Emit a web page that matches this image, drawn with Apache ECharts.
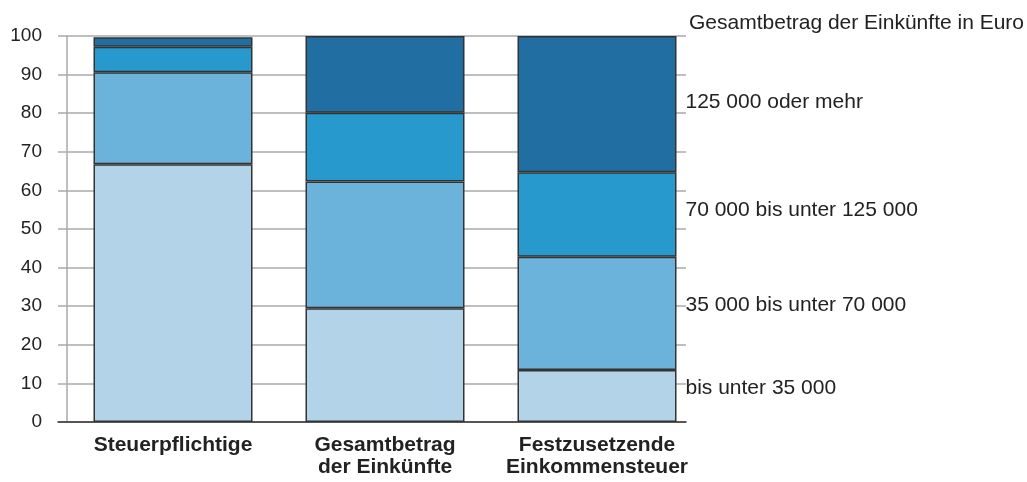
<!DOCTYPE html>
<html>
<head>
<meta charset="utf-8">
<script src="https://cdn.jsdelivr.net/npm/echarts@6/dist/echarts.min.js"></script>
<style>html,body{margin:0;padding:0;background:#fff;}#c{width:1027px;height:482px;}</style>
</head>
<body>
<div id="c"></div>
<script>
const categories = ['Steuerpflichtige', 'Gesamtbetrag\nder Einkünfte', 'Festzusetzende\nEinkommensteuer'];
const bandNames = ['bis unter 35 000', '35 000 bis unter 70 000', '70 000 bis unter 125 000', '125 000 oder mehr'];
const legendTitle = 'Gesamtbetrag der Einkünfte in Euro';
const under35 = [66.8, 29.5, 13.5];
const from35to70 = [23.8, 32.8, 29.3];
const from70to125 = [6.6, 17.8, 21.9];
const over125 = [2.5, 19.9, 35.3];

const FONT = '"Liberation Sans", Arial, Helvetica, sans-serif';
const colors = ['#b3d4e8', '#6bb3db', '#2799cc', '#216fa2'];
const labelOffsets = [[0, -8], [0, -8], [0, -4], [0, -1.5]];
const seriesValues = [under35, from35to70, from70to125, over125];

const chart = echarts.init(document.getElementById('c'), null, {renderer: 'canvas'});
const series = seriesValues.map((vals, s) => ({
  name: bandNames[s],
  type: 'bar',
  stack: 'total',
  xAxisIndex: 0,
  yAxisIndex: 0,
  barWidth: 159,
  itemStyle: {color: colors[s], borderColor: '#333', borderWidth: 1.5},
  emphasis: {disabled: true},
  data: vals.map((v, i) => {
    const d = {value: v};
    if (i === vals.length - 1) {
      d.label = {
        show: true, position: 'right', distance: 9,
        offset: labelOffsets[s],
        formatter: bandNames[s],
        color: '#222', fontFamily: FONT, fontSize: 21
      };
    }
    return d;
  })
}));

chart.setOption({
  animation: false,
  backgroundColor: '#fff',
  title: {
    text: legendTitle, left: 684, top: 8,
    textStyle: {color: '#222', fontFamily: FONT, fontSize: 21, fontWeight: 'normal'}
  },
  grid: [
    {left: 67, right: 324, top: 36, bottom: 60, containLabel: false},
    {left: 58, right: 341, top: 36, bottom: 60, containLabel: false}
  ],
  xAxis: [
    {
      type: 'category', gridIndex: 0, data: categories,
      axisLine: {show: false},
      axisTick: {show: false},
      splitLine: {show: false},
      axisLabel: {
        color: '#222', fontFamily: FONT, fontSize: 21, fontWeight: 'bold',
        lineHeight: 22, margin: 12, interval: 0
      }
    },
    {
      type: 'value', gridIndex: 1, min: 0, max: 1,
      axisLine: {show: true, lineStyle: {color: '#333', width: 1.5}},
      axisTick: {show: false},
      splitLine: {show: false},
      axisLabel: {show: false}
    }
  ],
  yAxis: [
    {
      type: 'value', gridIndex: 0, min: 0, max: 100, interval: 10,
      show: false
    },
    {
      type: 'value', gridIndex: 1, min: 0, max: 100, interval: 10,
      offset: -9,
      axisLine: {show: true, onZero: false, lineStyle: {color: '#aaa', width: 1.5}},
      axisTick: {show: false},
      splitLine: {show: true, lineStyle: {color: '#aaa', width: 1.5}},
      axisLabel: {color: '#222', fontFamily: FONT, fontSize: 19, margin: 25}
    }
  ],
  series: series
});
</script>
</body>
</html>
